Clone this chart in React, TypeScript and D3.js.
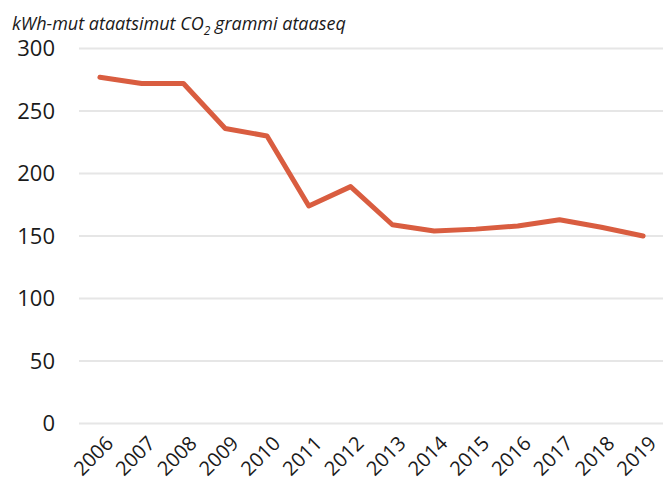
import React from 'react';
import * as d3 from 'd3';

const years = ['2006', '2007', '2008', '2009', '2010', '2011', '2012', '2013', '2014', '2015', '2016', '2017', '2018', '2019'];
const co2PerKwh = [277, 272, 272, 236, 230, 174, 189.5, 159, 154, 155.5, 158, 163, 157, 150];
const yTicks = [0, 50, 100, 150, 200, 250, 300];

const W = 663;
const H = 481;
const margin = { top: 48.5, right: -1, bottom: 57.5, left: 79 };

const App = () => {
  const x = d3
    .scaleBand<string>()
    .domain(years)
    .range([margin.left, W - margin.right]);
  const y = d3
    .scaleLinear()
    .domain([0, 300])
    .range([H - margin.bottom, margin.top]);

  const line = d3
    .line<number>()
    .x((d, i) => x(years[i])! + x.bandwidth() / 2)
    .y(d => y(d));

  const font = "'Open Sans', sans-serif";

  return (
    <svg
      width={W}
      height={H}
      style={{ position: 'absolute', left: 0, top: 0, background: '#fff' }}
      fontFamily={font}>
      <text x={12} y={30} fontSize={18} fontStyle="italic" fill="#1a1a1a">
        kWh-mut ataatsimut CO<tspan fontSize={12} dy={5}>2</tspan>
        <tspan dy={-5}> grammi ataaseq</tspan>
      </text>
      {yTicks.map(t => (
        <g key={'g' + t}>
          <line x1={margin.left} x2={W} y1={y(t)} y2={y(t)} stroke="#e6e6e6" strokeWidth={2} />
          <text x={55} y={y(t)} dy="0.35em" textAnchor="end" fontSize={22} fill="#1a1a1a">
            {t}
          </text>
        </g>
      ))}
      {years.map(yr => {
        const cx = x(yr)! + x.bandwidth() / 2;
        return (
          <text
            key={'x' + yr}
            transform={`translate(${cx + 4},${434}) rotate(-45)`}
            textAnchor="end"
            dy="0.75em"
            fontSize={20}
            fill="#1a1a1a">
            {yr}
          </text>
        );
      })}
      <path d={line(co2PerKwh) || ''} fill="none" stroke="#d95d40" strokeWidth={5} strokeLinejoin="round" strokeLinecap="round" />
    </svg>
  );
};

export default App;
